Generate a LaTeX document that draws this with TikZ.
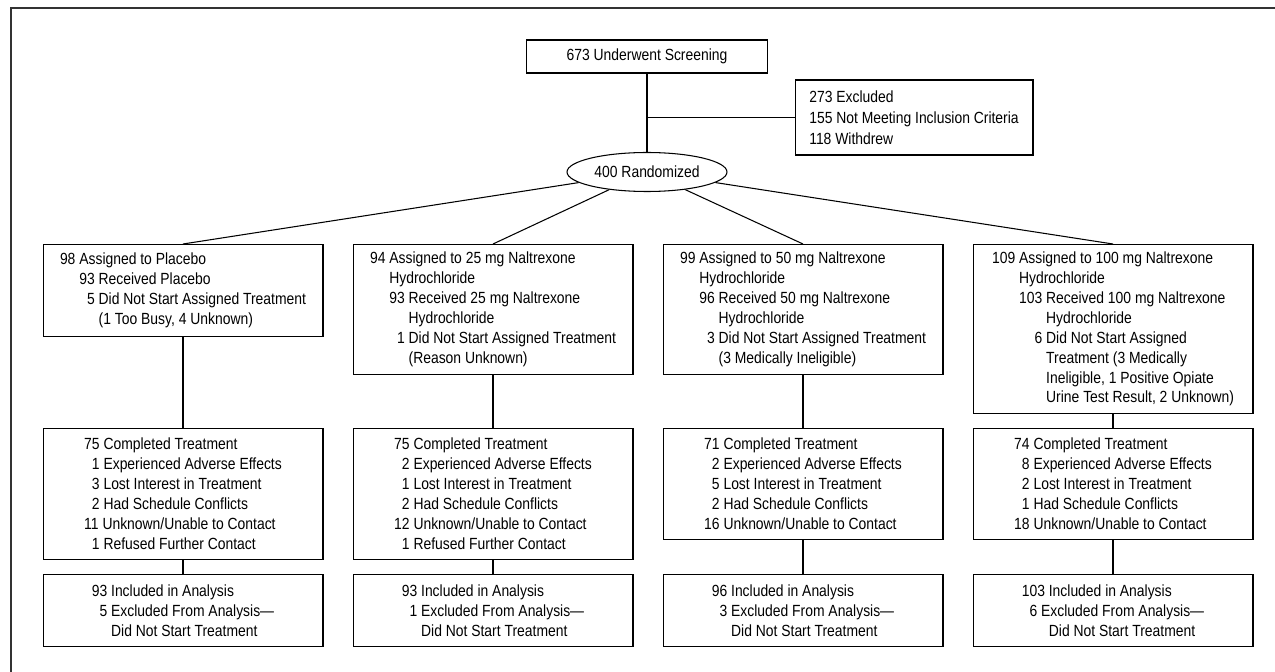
\documentclass[tikz,border=0pt]{standalone}
\usepackage{fontspec}
\setmainfont{Liberation Sans}[FakeStretch=0.86]
\usetikzlibrary{shapes.geometric}

\begin{document}
\begin{tikzpicture}[
  x=0.02cm, y=-0.02cm,
  font=\fontsize{9.2}{11.34}\selectfont,
  box/.style={draw, line width=0.6pt, align=left, inner sep=0pt},
  arm/.style={box, anchor=north, minimum width=5.6cm},
  line/.style={line width=0.6pt},
  frame/.style={line width=1.2pt, black!80},
]
\useasboundingbox (0,0) rectangle (1275,672);
\draw[frame] (11,672) -- (11,8) -- (1275,8);

% -- Screening --
\node[box, minimum width=4.82cm, minimum height=0.66cm] (screen) at (647,56.5) {673 Underwent Screening};
\node[box, minimum width=4.76cm, minimum height=1.5cm, font=\fontsize{9.2}{11.9}\selectfont] (excl) at (914,117.5) {273 Excluded\\155 Not Meeting Inclusion Criteria\\118 Withdrew};
\node[draw, line width=0.6pt, ellipse, inner sep=0pt, minimum width=3.2cm, minimum height=0.78cm] (rand) at (647,172) {400 Randomized};

% -- Allocation --
\node[arm, minimum height=1.84cm] (a1) at (183,244) {98 Assigned to Placebo\\
  \hphantom{98\ }93 Received Placebo\\
  \hphantom{98\ 9}5 Did Not Start Assigned Treatment\\
  \hphantom{98\ 93\ }(1 Too Busy, 4 Unknown)};
\node[arm, minimum height=2.6cm] (a2) at (493,244) {94 Assigned to 25 mg Naltrexone\\
  \hphantom{94\ }Hydrochloride\\
  \hphantom{94\ }93 Received 25 mg Naltrexone\\
  \hphantom{94\ 93\ }Hydrochloride\\
  \hphantom{94\ 9}1 Did Not Start Assigned Treatment\\
  \hphantom{94\ 93\ }(Reason Unknown)};
\node[arm, minimum height=2.6cm] (a3) at (803,244) {99 Assigned to 50 mg Naltrexone\\
  \hphantom{99\ }Hydrochloride\\
  \hphantom{99\ }96 Received 50 mg Naltrexone\\
  \hphantom{99\ 96\ }Hydrochloride\\
  \hphantom{99\ 9}3 Did Not Start Assigned Treatment\\
  \hphantom{99\ 96\ }(3 Medically Ineligible)};
\node[arm, minimum height=3.38cm] (a4) at (1113,244) {109 Assigned to 100 mg Naltrexone\\
  \hphantom{109\ }Hydrochloride\\
  \hphantom{109\ }103 Received 100 mg Naltrexone\\
  \hphantom{109\ 103\ }Hydrochloride\\
  \hphantom{109\ 10}6 Did Not Start Assigned\\
  \hphantom{109\ 103\ }Treatment (3 Medically\\
  \hphantom{109\ 103\ }Ineligible, 1 Positive Opiate\\
  \hphantom{109\ 103\ }Urine Test Result, 2 Unknown)};

% -- Follow-up --
\node[arm, minimum height=2.62cm] (c1) at (183,428) {75 Completed Treatment\\
  \hphantom{0}1 Experienced Adverse Effects\\
  \hphantom{0}3 Lost Interest in Treatment\\
  \hphantom{0}2 Had Schedule Conflicts\\
  11 Unknown/Unable to Contact\\
  \hphantom{0}1 Refused Further Contact};
\node[arm, minimum height=2.62cm] (c2) at (493,428) {75 Completed Treatment\\
  \hphantom{0}2 Experienced Adverse Effects\\
  \hphantom{0}1 Lost Interest in Treatment\\
  \hphantom{0}2 Had Schedule Conflicts\\
  12 Unknown/Unable to Contact\\
  \hphantom{0}1 Refused Further Contact};
\node[arm, minimum height=2.22cm] (c3) at (803,428) {71 Completed Treatment\\
  \hphantom{0}2 Experienced Adverse Effects\\
  \hphantom{0}5 Lost Interest in Treatment\\
  \hphantom{0}2 Had Schedule Conflicts\\
  16 Unknown/Unable to Contact};
\node[arm, minimum height=2.22cm] (c4) at (1113,428) {74 Completed Treatment\\
  \hphantom{0}8 Experienced Adverse Effects\\
  \hphantom{0}2 Lost Interest in Treatment\\
  \hphantom{0}1 Had Schedule Conflicts\\
  18 Unknown/Unable to Contact};

% -- Analysis --
\node[arm, minimum height=1.44cm] (n1) at (183,574) {93 Included in Analysis\\
  \hphantom{0}5 Excluded From Analysis---\\
  \hphantom{93\ }Did Not Start Treatment};
\node[arm, minimum height=1.44cm] (n2) at (493,574) {93 Included in Analysis\\
  \hphantom{0}1 Excluded From Analysis---\\
  \hphantom{93\ }Did Not Start Treatment};
\node[arm, minimum height=1.44cm] (n3) at (803,574) {96 Included in Analysis\\
  \hphantom{0}3 Excluded From Analysis---\\
  \hphantom{96\ }Did Not Start Treatment};
\node[arm, minimum height=1.44cm] (n4) at (1113,574) {103 Included in Analysis\\
  \hphantom{0}6 Excluded From Analysis---\\
  \hphantom{103\ }Did Not Start Treatment};

% -- Connections --
\draw[line] (screen) -- (rand);
\draw[line] (screen.south |- excl.west) -- (excl.west);
\draw[line] (rand) -- (a1.north);
\draw[line] (rand) -- (a2.north);
\draw[line] (rand) -- (a3.north);
\draw[line] (rand) -- (a4.north);
\draw[line] (a1) -- (c1);
\draw[line] (a2) -- (c2);
\draw[line] (a3) -- (c3);
\draw[line] (a4) -- (c4);
\draw[line] (c1) -- (n1);
\draw[line] (c2) -- (n2);
\draw[line] (c3) -- (n3);
\draw[line] (c4) -- (n4);

\end{tikzpicture}
\end{document}
